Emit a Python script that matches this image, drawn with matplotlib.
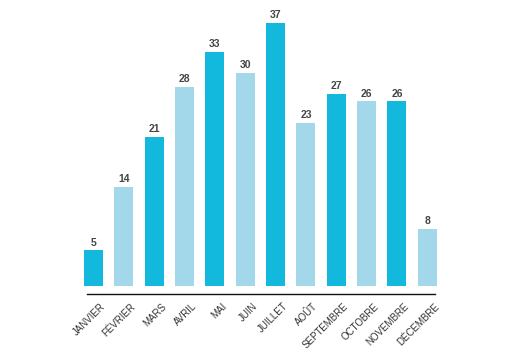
import matplotlib
matplotlib.use("Agg")
import matplotlib.pyplot as plt
from matplotlib.transforms import offset_copy

# --- Data ---
months = ["JANVIER", "FÉVRIER", "MARS", "AVRIL", "MAI", "JUIN",
          "JUILLET", "AOÛT", "SEPTEMBRE", "OCTOBRE", "NOVEMBRE", "DÉCEMBRE"]
values = [5, 14, 21, 28, 33, 30, 37, 23, 27, 26, 26, 8]
colors = ["#13b9dc", "#a3d7ea", "#13b9dc", "#a3d7ea", "#13b9dc", "#a3d7ea",
          "#13b9dc", "#a3d7ea", "#13b9dc", "#a3d7ea", "#13b9dc", "#a3d7ea"]

plt.rcParams["font.family"] = ["Liberation Sans", "DejaVu Sans"]

fig = plt.figure(figsize=(5.08, 3.61), dpi=100)
ax = fig.add_axes([0.154, 0.208, 0.717, 0.767])

x = list(range(len(months)))
bars = ax.bar(x, values, width=0.63, color=colors, clip_on=False)

for b, v in zip(bars, values):
    ax.annotate(str(v), (b.get_x() + b.get_width() / 2, v),
                xytext=(0, 2), textcoords="offset points",
                ha="center", va="bottom", fontsize=7.5, fontweight="bold",
                color="#444444",
                family=["Liberation Sans Narrow", "Liberation Sans", "DejaVu Sans"])

ax.set_xlim(-0.5, 11.5)
ax.set_ylim(0, 39)

for s in ["top", "right", "left"]:
    ax.spines[s].set_visible(False)
ax.spines["bottom"].set_position(("outward", 6))
ax.spines["bottom"].set_bounds(-0.21, 11.25)
ax.spines["bottom"].set_linewidth(1.0)
ax.spines["bottom"].set_color("#111111")

ax.set_yticks([])
ax.set_xticks(x)
ax.set_xticklabels(months, rotation=45, ha="right", rotation_mode="anchor",
                   fontsize=7, color="#333333")
ax.tick_params(axis="x", length=0, pad=5)
for lbl in ax.get_xticklabels():
    lbl.set_transform(offset_copy(lbl.get_transform(), fig=fig, x=7, y=0, units="dots"))

fig.savefig("out.png", dpi=100)
